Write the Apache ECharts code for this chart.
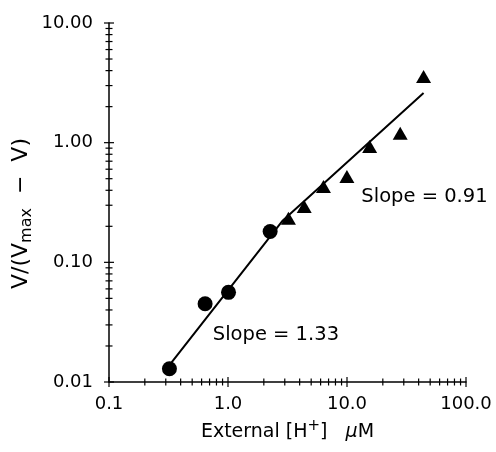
<!DOCTYPE html>
<html><head><meta charset="utf-8">
<script src="https://cdn.jsdelivr.net/npm/echarts@6/dist/echarts.min.js"></script>
<style>html,body{margin:0;padding:0;background:#fff}#c{width:496px;height:452px}</style>
</head><body><div id="c"></div>
<script>
// ---- data ----
const circleX = [0.322, 0.642, 1.01, 2.26];
const circleY = [0.0129, 0.0451, 0.0561, 0.181];
const triangleX = [3.22, 4.37, 6.34, 9.98, 15.5, 28.0, 44.0];
const triangleY = [0.234, 0.293, 0.431, 0.522, 0.93, 1.20, 3.57];
const fitX = [0.316, 2.89, 44.0];
const fitY = [0.0135, 0.224, 2.60];
const xTickLabels = ['0.1', '1.0', '10.0', '100.0'];
const yTickLabels = ['0.01', '0.10', '1.00', '10.00'];
const xMajor = [0.1, 1, 10, 100];
const yMajor = [0.01, 0.1, 1, 10];
const minorMultipliers = [2, 3, 4, 5, 6, 7, 8, 9];
const annotText = ['Slope = 1.33', 'Slope = 0.91'];
const annotX = [0.745, 13.2];
const annotY = [0.0248, 0.355];

// ---- build option ----
const FONT = 'DejaVu Sans';
const INK = '#000';
const xMin = xMajor[0], yMin = yMajor[0];
const xTicks = [], yTicks = [];
xMajor.forEach(v => xTicks.push([v, yMin, 1]));
xMajor.slice(0, -1).forEach(d => minorMultipliers.forEach(m => xTicks.push([m * d, yMin, 0])));
yMajor.forEach(v => yTicks.push([xMin, v, 1]));
yMajor.slice(0, -1).forEach(d => minorMultipliers.forEach(m => yTicks.push([xMin, m * d, 0])));

function tickRender(vertical) {
  return function (params, api) {
    const p = api.coord([api.value(0), api.value(1)]);
    const half = api.value(2) ? 5 : 3.5;
    const shape = vertical
      ? { x1: p[0], y1: p[1] - half, x2: p[0], y2: p[1] + half }
      : { x1: p[0] - half, y1: p[1], x2: p[0] + half, y2: p[1] };
    return { type: 'line', shape: shape, style: { stroke: INK, lineWidth: 1.2 } };
  };
}

const chart = echarts.init(document.getElementById('c'), null, { renderer: 'canvas' });
chart.setOption({
  backgroundColor: '#fff',
  animation: false,
  grid: { left: 109, right: 30, top: 23, bottom: 70, outerBoundsMode: 'none' },
  xAxis: {
    type: 'log', logBase: 10, min: xMajor[0], max: xMajor[xMajor.length - 1],
    axisLine: { lineStyle: { color: INK, width: 1.5 } },
    axisTick: { show: false }, splitLine: { show: false },
    axisLabel: {
      margin: 13, fontSize: 18, fontFamily: FONT, color: INK,
      formatter: v => xTickLabels[Math.round(Math.log10(v)) + 1]
    },
    name: '{n|External [H}{sup|+}{n|]   }{mu|μ}{n|M}',
    nameLocation: 'middle', nameGap: 37, nameMoveOverlap: false,
    nameTextStyle: {
      fontSize: 19, fontFamily: FONT, color: INK,
      rich: {
        n: { fontSize: 19, fontFamily: FONT, color: INK },
        sup: { fontSize: 15, fontFamily: FONT, color: INK, padding: [0, 0, 12, 0] },
        mu: { fontSize: 19, fontFamily: FONT, color: INK, fontStyle: 'italic' }
      }
    }
  },
  yAxis: {
    type: 'log', logBase: 10, min: yMajor[0], max: yMajor[yMajor.length - 1],
    axisLine: { lineStyle: { color: INK, width: 1.5 } },
    axisTick: { show: false }, splitLine: { show: false },
    axisLabel: {
      margin: 16, fontSize: 18, fontFamily: FONT, color: INK,
      formatter: v => yTickLabels[Math.round(Math.log10(v)) + 2]
    },
    name: '{n|V/(V}{s|max}{n|  −  V)}',
    nameLocation: 'middle', nameGap: 74, nameMoveOverlap: false,
    nameTextStyle: {
      fontSize: 22, fontFamily: FONT, color: INK, padding: [0, 22, 0, 0],
      rich: {
        n: { fontSize: 22, fontFamily: FONT, color: INK },
        s: { fontSize: 16, fontFamily: FONT, color: INK, padding: [11, 0, 0, 0] }
      }
    }
  },
  series: [
    { type: 'custom', data: xTicks, renderItem: tickRender(true), clip: false, silent: true, z: 5 },
    { type: 'custom', data: yTicks, renderItem: tickRender(false), clip: false, silent: true, z: 5 },
    {
      type: 'line', data: fitX.map((x, i) => [x, fitY[i]]), showSymbol: false,
      lineStyle: { color: INK, width: 2 }, z: 3
    },
    {
      type: 'scatter', data: circleX.map((x, i) => [x, circleY[i]]),
      symbol: 'circle', symbolSize: 15, itemStyle: { color: INK, opacity: 1 }, z: 4
    },
    {
      type: 'scatter', data: triangleX.map((x, i) => [x, triangleY[i]]),
      symbol: 'triangle', symbolSize: [15, 13], itemStyle: { color: INK, opacity: 1 }, z: 4
    },
    {
      type: 'scatter', data: annotX.map((x, i) => [x, annotY[i], annotText[i]]),
      symbolSize: 0, silent: true, itemStyle: { opacity: 1 },
      label: {
        show: true, position: 'right', distance: 0, formatter: p => p.value[2],
        fontSize: 19.5, fontFamily: FONT, color: INK
      }
    }
  ]
});
</script>
</body></html>
